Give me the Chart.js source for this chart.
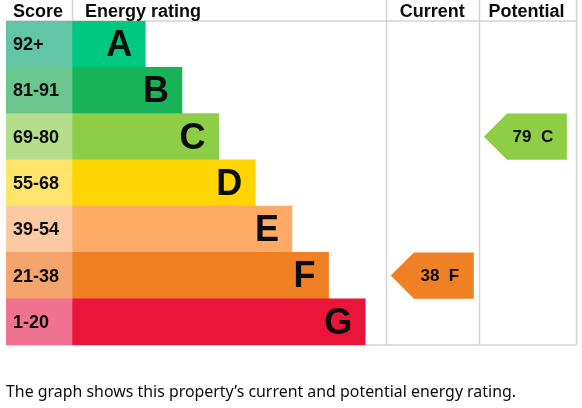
<!DOCTYPE html>
<html>
<head>
<meta charset="utf-8">
<script src="https://cdn.jsdelivr.net/npm/chart.js@4"></script>
<style>
html,body{margin:0;padding:0;background:#fff;}
#wrap{width:582px;height:408px;position:relative;}
</style>
</head>
<body>
<div id="wrap"><canvas id="c" width="582" height="408"></canvas></div>
<script>
// ---- data ----
const bands = ['A','B','C','D','E','F','G'];
const scoreLabels = ['92+','81-91','69-80','55-68','39-54','21-38','1-20'];
const scoreMins = [92,81,69,55,39,21,1];
const barLengths = [2,3,4,5,6,7,8];
const barColors = ['#00c781','#19b459','#8dce46','#ffd500','#fcaa65','#ef8023','#e9153b'];
const scoreColors = ['#62c5a5','#6ac68c','#b4de8c','#ffe46c','#fbcaa2','#f4a46c','#ef7391'];
const currentScore = 38;
const potentialScore = 79;
const headers = ['Score','Energy rating','Current','Potential'];
const caption = 'The graph shows this property\u2019s current and potential energy rating.';

// ---- layout constants (x-axis units) ----
const X_MIN = -1.8, RATING_END = 8.56, CURRENT_END = 11.1, X_MAX = 13.75;
const GRID = '#d4d4d4';
const FONT = '"Liberation Sans", Arial, sans-serif';

function bandIndex(score){
  for(let i=0;i<scoreMins.length;i++){ if(score>=scoreMins[i]) return i; }
  return scoreMins.length-1;
}

const epcPlugin = {
  id:'epc',
  beforeDatasetsDraw(chart){
    const ctx = chart.ctx, x = chart.scales.x, ca = chart.chartArea;
    ctx.save();
    ctx.strokeStyle = GRID; ctx.lineWidth = 1.5;
    const vx = [0, RATING_END, CURRENT_END, X_MAX].map(v=>Math.round(x.getPixelForValue(v))+0.5);
    ctx.beginPath();
    vx.forEach(p=>{ ctx.moveTo(p,0); ctx.lineTo(p,ca.bottom); });
    ctx.moveTo(ca.left, ca.top); ctx.lineTo(ca.right, ca.top);
    ctx.moveTo(ca.left, ca.bottom); ctx.lineTo(ca.right, ca.bottom);
    ctx.stroke();
    ctx.restore();
  },
  afterDatasetsDraw(chart){
    const ctx = chart.ctx, x = chart.scales.x, y = chart.scales.y, ca = chart.chartArea;
    const rowH = y.getPixelForValue(1) - y.getPixelForValue(0);
    ctx.save();
    ctx.fillStyle = '#0b0c0c';
    // headers
    ctx.font = 'bold 18px ' + FONT;
    ctx.textBaseline = 'alphabetic';
    ctx.textAlign = 'left';
    ctx.fillText(headers[0], ca.left + 7, 17);
    ctx.fillText(headers[1], x.getPixelForValue(0) + 13, 17);
    ctx.textAlign = 'center';
    ctx.fillText(headers[2], (x.getPixelForValue(RATING_END)+x.getPixelForValue(CURRENT_END))/2, 17);
    ctx.fillText(headers[3], (x.getPixelForValue(CURRENT_END)+x.getPixelForValue(X_MAX))/2 - 1, 17);
    // score labels
    ctx.textAlign = 'left'; ctx.textBaseline = 'middle';
    ctx.font = 'bold 18px ' + FONT;
    scoreLabels.forEach((s,i)=>{ ctx.fillText(s, ca.left + 7, y.getPixelForValue(i) + 1); });
    // band letters
    ctx.textAlign = 'right';
    ctx.font = 'bold 36px ' + FONT;
    bands.forEach((b,i)=>{ ctx.fillText(b, x.getPixelForValue(barLengths[i]) - 13, y.getPixelForValue(i) + 2); });
    // arrows
    const drawArrow = (score, colStart)=>{
      const i = bandIndex(score);
      const cy = y.getPixelForValue(i);
      const top = cy - rowH/2, bot = cy + rowH/2;
      const left = x.getPixelForValue(colStart) + 5, right = left + 83;
      const tip = rowH/2;
      ctx.fillStyle = barColors[i];
      ctx.beginPath();
      ctx.moveTo(left, cy); ctx.lineTo(left+tip, top); ctx.lineTo(right, top);
      ctx.lineTo(right, bot); ctx.lineTo(left+tip, bot); ctx.closePath(); ctx.fill();
      ctx.fillStyle = '#0b0c0c';
      ctx.font = 'bold 17px ' + FONT;
      ctx.textAlign = 'center'; ctx.textBaseline = 'middle';
      ctx.fillText(score + '  ' + bands[i], (left+tip+right)/2 - 4, cy + 1);
    };
    drawArrow(currentScore, RATING_END);
    drawArrow(potentialScore, CURRENT_END);
    // caption
    ctx.fillStyle = '#0b0c0c';
    ctx.textAlign = 'left'; ctx.textBaseline = 'alphabetic';
    ctx.font = '17px "Noto Sans", sans-serif';
    ctx.fillText(caption, 6, 397, 510);
    ctx.restore();
  }
};

new Chart(document.getElementById('c'), {
  type:'bar',
  data:{
    labels: bands,
    datasets:[
      { label:'Score', data: bands.map(()=>[X_MIN,0]), backgroundColor: scoreColors, borderWidth:0, grouped:false,
        barPercentage:1, categoryPercentage:1 },
      { label:'Energy rating', data: barLengths, backgroundColor: barColors, borderWidth:0, grouped:false,
        barPercentage:1, categoryPercentage:1 }
    ]
  },
  options:{
    indexAxis:'y',
    responsive:false,
    animation:false,
    layout:{ padding:{ top:21, bottom:63, left:6, right:6 } },
    plugins:{ legend:{display:false}, tooltip:{enabled:false} },
    scales:{
      x:{ type:'linear', min:X_MIN, max:X_MAX, display:false },
      y:{ type:'category', display:false, offset:true, grid:{display:false} }
    }
  },
  plugins:[epcPlugin]
});
</script>
</body>
</html>
